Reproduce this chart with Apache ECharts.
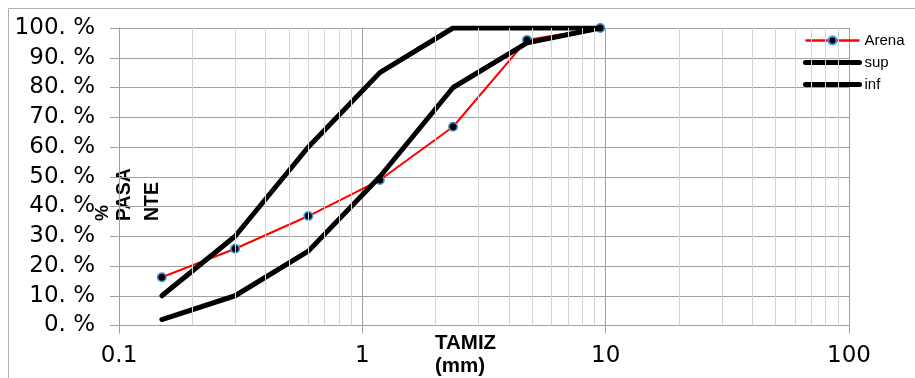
<!DOCTYPE html>
<html>
<head>
<meta charset="utf-8">
<style>
  html, body { margin: 0; padding: 0; background: #fff; }
  #chart { width: 915px; height: 378px; }
</style>
<script src="https://cdn.jsdelivr.net/npm/echarts@6/dist/echarts.min.js"></script>
</head>
<body>
<div id="chart"></div>
<script>
// Sieve openings (mm)
const sieves = [0.15, 0.3, 0.6, 1.18, 2.36, 4.75, 9.5];
// Percentage passing for the sand sample
const arena = [16.2, 25.8, 36.8, 48.9, 66.8, 96.0, 100];
// Upper and lower grading limits
const sup = [10, 30, 60, 85, 100, 100, 100];
const inf = [2, 10, 25, 50, 80, 95, 100];
// Series names shown in the legend
const seriesNames = ['Arena', 'sup', 'inf'];
// Intermediate log-decade gridline positions (2..9 within each decade)
const decades = [0.1, 1, 10];
const minorLines = [];
decades.forEach(function (d) {
  for (let k = 2; k <= 9; k++) minorLines.push(+(d * k).toFixed(4));
});

const pairs = (xs, ys) => xs.map((x, i) => [x, ys[i]]);

const chart = echarts.init(document.getElementById('chart'), null, { renderer: 'canvas' });

const axisGray = '#a0a0a0';
const numFont = 'DejaVu Sans';

chart.setOption({
  animation: false,
  backgroundColor: '#ffffff',
  grid: { left: 119, right: 66, top: 28, bottom: 52.5 },
  xAxis: {
    type: 'log',
    logBase: 10,
    min: 0.1,
    max: 100,
    axisLine: { show: true, lineStyle: { color: axisGray, width: 1 } },
    axisTick: { show: true, length: 8, lineStyle: { color: axisGray } },
    axisLabel: {
      margin: 19,
      fontFamily: numFont,
      fontSize: 23,
      color: '#000',
      formatter: function (v) { return String(+v.toPrecision(3)); }
    },
    splitLine: { show: true, lineStyle: { color: axisGray, width: 1 } }
  },
  yAxis: {
    type: 'value',
    min: 0,
    max: 100,
    interval: 10,
    axisLine: { show: true, lineStyle: { color: axisGray, width: 1 } },
    axisTick: { show: true, length: 9, lineStyle: { color: axisGray } },
    axisLabel: {
      margin: 24,
      fontFamily: numFont,
      fontSize: 23,
      color: '#000',
      formatter: function (v) { return v + '. %'; }
    },
    splitLine: { show: true, lineStyle: { color: axisGray, width: 1 } }
  },
  legend: {
    data: [
      { name: seriesNames[0], lineStyle: { width: 2.5 } },
      { name: seriesNames[1], itemStyle: { opacity: 0 }, lineStyle: { width: 5, cap: 'round' } },
      { name: seriesNames[2], itemStyle: { opacity: 0 }, lineStyle: { width: 5, cap: 'round' } }
    ],
    orient: 'vertical',
    left: 803,
    top: 33,
    itemWidth: 54,
    itemHeight: 10,
    itemGap: 7,
    padding: 0,
    textStyle: { fontFamily: 'Liberation Sans', fontSize: 15, color: '#000' }
  },
  graphic: [
    {
      type: 'rect',
      silent: true,
      shape: { x: 8.5, y: 8.5, width: 940, height: 400 },
      style: { fill: 'none', stroke: '#b0b0b0', lineWidth: 1 },
      z: -10
    },
    {
      type: 'text', x: 103, y: 221, rotation: Math.PI / 2,
      style: { text: '%', fontFamily: 'Liberation Sans', fontWeight: 'bold', fontSize: 18,
               fill: '#000', align: 'left', verticalAlign: 'middle' }
    },
    {
      type: 'text', x: 125, y: 221, rotation: Math.PI / 2,
      style: { text: 'PASA', fontFamily: 'Liberation Sans', fontWeight: 'bold', fontSize: 19.5,
               fill: '#000', align: 'left', verticalAlign: 'middle' }
    },
    {
      type: 'text', x: 152.5, y: 221, rotation: Math.PI / 2,
      style: { text: 'NTE', fontFamily: 'Liberation Sans', fontWeight: 'bold', fontSize: 19.5,
               fill: '#000', align: 'left', verticalAlign: 'middle' }
    },
    {
      type: 'text', x: 435, y: 332,
      style: { text: 'TAMIZ\n(mm)', fontFamily: 'Liberation Sans', fontWeight: 'bold', fontSize: 20.5,
               lineHeight: 23, fill: '#000', align: 'left', verticalAlign: 'top' }
    }
  ],
  series: [
    {
      name: 'minor-grid',
      type: 'line',
      data: [],
      silent: true,
      z: 1,
      markLine: {
        silent: true,
        symbol: ['none', 'none'],
        label: { show: false },
        lineStyle: { color: '#d4d4d4', type: 'solid', width: 1 },
        data: minorLines.map(function (v) { return { xAxis: v }; })
      }
    },
    {
      name: 'Arena',
      type: 'line',
      data: pairs(sieves, arena),
      z: 3,
      symbol: 'circle',
      symbolSize: 8.5,
      lineStyle: { color: '#ff0000', width: 2 },
      itemStyle: { color: '#000000', borderColor: '#4a90d9', borderWidth: 1.5 }
    },
    {
      name: 'sup',
      type: 'line',
      data: pairs(sieves, sup),
      z: 4,
      symbol: 'none',
      lineStyle: { color: '#000000', width: 5, cap: 'round', join: 'round' },
      itemStyle: { color: '#000000' }
    },
    {
      name: 'inf',
      type: 'line',
      data: pairs(sieves, inf),
      z: 4,
      symbol: 'none',
      lineStyle: { color: '#000000', width: 5, cap: 'round', join: 'round' },
      itemStyle: { color: '#000000' }
    }
  ]
});
</script>
</body>
</html>
